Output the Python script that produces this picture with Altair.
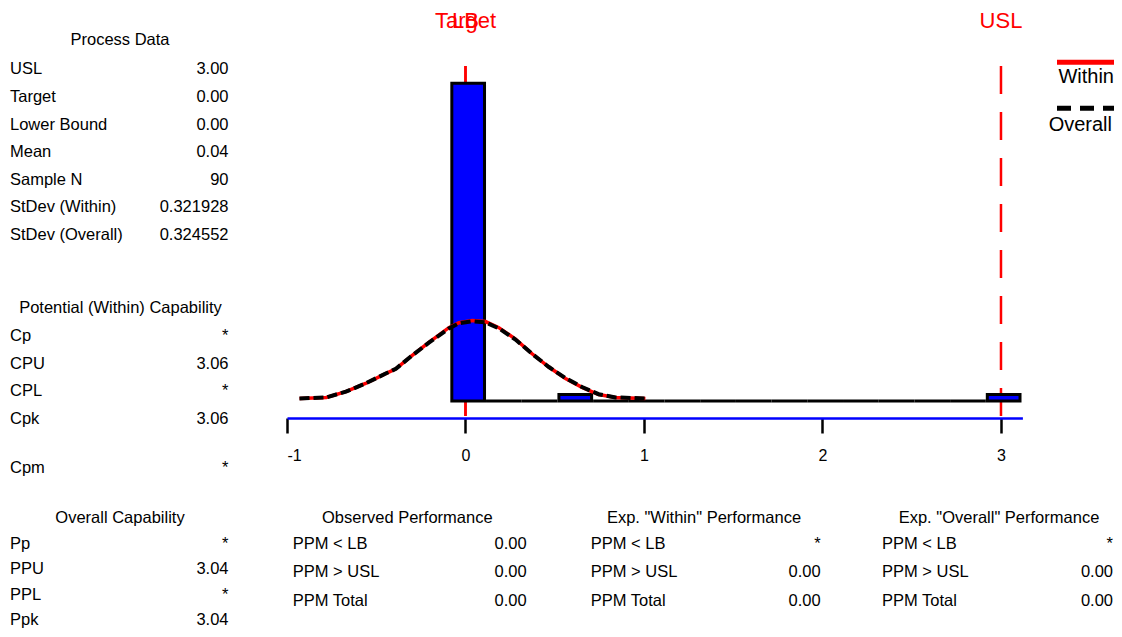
import altair as alt
import pandas as pd

# ---------------- data ----------------
bin_lo = [-0.085, 0.115, 0.315, 0.515, 0.715, 0.915, 1.115, 1.315,
          1.515, 1.715, 1.915, 2.115, 2.315, 2.515, 2.715, 2.915]
bin_width = 0.2
bin_count = [88, 0, 0, 1, 0, 0, 0, 0, 0, 0, 0, 0, 0, 0, 0, 1]

curve_x = [-0.93, -0.78, -0.67, -0.56, -0.45, -0.39, -0.30, -0.205, -0.093, -0.037,
           0.038, 0.112, 0.187, 0.280, 0.373, 0.467, 0.560, 0.653, 0.746, 0.840, 1.008]
within_y = [0.7, 1.0, 2.6, 4.9, 7.6, 9.0, 12.7, 16.4, 20.5, 21.9,
            22.5, 22.2, 20.5, 17.3, 13.2, 9.5, 6.3, 3.8, 1.8, 1.0, 0.7]
overall_y = [0.7, 1.0, 2.6, 4.9, 7.6, 9.0, 12.7, 16.3, 20.3, 21.7,
             22.3, 22.0, 20.3, 17.2, 13.2, 9.5, 6.4, 3.9, 1.9, 1.0, 0.7]

spec_names = ["LB", "Target", "USL"]
spec_values = [0.0, 0.0, 3.0]
x_ticks = [-1, 0, 1, 2, 3]

legend_names = ["Within", "Overall"]

process_title = "Process Data"
process_labels = ["USL", "Target", "Lower Bound", "Mean", "Sample N",
                  "StDev (Within)", "StDev (Overall)"]
process_values = ["3.00", "0.00", "0.00", "0.04", "90", "0.321928", "0.324552"]

potential_title = "Potential (Within) Capability"
potential_labels = ["Cp", "CPU", "CPL", "Cpk", "Cpm"]
potential_values = ["*", "3.06", "*", "3.06", "*"]

overall_title = "Overall Capability"
overall_labels = ["Pp", "PPU", "PPL", "Ppk"]
overall_values = ["*", "3.04", "*", "3.04"]

perf_labels = ["PPM < LB", "PPM > USL", "PPM Total"]
observed_title = "Observed Performance"
observed_values = ["0.00", "0.00", "0.00"]
exp_within_title = 'Exp. "Within" Performance'
exp_within_values = ["*", "0.00", "0.00"]
exp_overall_title = 'Exp. "Overall" Performance'
exp_overall_values = ["*", "0.00", "0.00"]

# ---------------- layout ----------------
FONT = "Liberation Sans"
W, H = 1106, 410          # plot area; total chart = 1106 x 621
TXT = 16.5

xs = alt.Scale(domain=[-1, 3.12], range=[279, 1014.4], nice=False, zero=False)
ys = alt.Scale(domain=[0, 88], range=[393, 78.2], nice=False, zero=False)

hist = pd.DataFrame({"lo": bin_lo, "hi": [v + bin_width for v in bin_lo],
                     "count": bin_count, "base": [0] * len(bin_lo)})
curves = pd.DataFrame({"x": curve_x + curve_x,
                       "y": within_y + overall_y,
                       "s": ["Within"] * len(curve_x) + ["Overall"] * len(curve_x)})
specs = pd.DataFrame({"name": spec_names, "v": spec_values})

x_axis = alt.Axis(values=x_ticks, title=None, grid=False,
                  domainColor="#0000FF", domainWidth=2.5,
                  tickColor="black", tickWidth=2.5, tickSize=15,
                  labelColor="black", labelFontSize=16, labelFont=FONT,
                  labelPadding=14, labelExpr="'' + datum.value")

spec_rules = alt.Chart(specs).mark_rule(color="#FF0000", strokeWidth=2.5,
                                        strokeDash=[28, 18]).encode(
    x=alt.X("v:Q", scale=xs, axis=x_axis),
    y=alt.value(58), y2=alt.value(410),
)

zero_bars = alt.Chart(hist).transform_filter(alt.datum["count"] == 0).mark_rect(
    fill="#0000FF", stroke="black", strokeWidth=3).encode(
    x=alt.X("lo:Q", scale=xs, axis=x_axis),
    x2="hi:Q",
    y=alt.Y("count:Q", scale=ys, axis=None),
    y2="base:Q",
)
# non-empty bins: outline drawn inside the bin edges, bar top grown by the outline
bars = alt.Chart(hist).transform_filter(alt.datum["count"] > 0).mark_rect(
    fill="#0000FF", stroke="black", strokeWidth=3,
    xOffset=1.5, x2Offset=-1.5, yOffset=-3).encode(
    x=alt.X("lo:Q", scale=xs, axis=x_axis),
    x2="hi:Q",
    y=alt.Y("count:Q", scale=ys, axis=None),
    y2="base:Q",
)

spec_text = alt.Chart(specs).mark_text(color="#FF0000", fontSize=22, font=FONT,
                                       align="center", baseline="alphabetic").encode(
    x=alt.X("v:Q", scale=xs, axis=x_axis), y=alt.value(20), text="name:N",
)

within_line = alt.Chart(curves).transform_filter(alt.datum.s == "Within").mark_line(
    color="#FF0000", strokeWidth=3.5).encode(
    x=alt.X("x:Q", scale=xs, axis=x_axis), y=alt.Y("y:Q", scale=ys, axis=None))
overall_line = alt.Chart(curves).transform_filter(alt.datum.s == "Overall").mark_line(
    color="black", strokeWidth=4, strokeDash=[10, 4]).encode(
    x=alt.X("x:Q", scale=xs, axis=x_axis), y=alt.Y("y:Q", scale=ys, axis=None))

leg = pd.DataFrame({"name": legend_names})
leg_within = alt.Chart(leg).transform_filter(alt.datum.name == "Within").mark_rule(
    color="#FF0000", strokeWidth=5).encode(
    x=alt.value(1049), x2=alt.value(1106), y=alt.value(54.3))
leg_overall = alt.Chart(leg).transform_filter(alt.datum.name == "Overall").mark_rule(
    color="black", strokeWidth=5, strokeDash=[14, 9]).encode(
    x=alt.value(1049), x2=alt.value(1106), y=alt.value(100.3))
leg_t1 = alt.Chart(leg).transform_filter(alt.datum.name == "Within").mark_text(
    fontSize=20, font=FONT, align="right", baseline="alphabetic").encode(
    x=alt.value(1106), y=alt.value(75.3), text="name:N")
leg_t2 = alt.Chart(leg).transform_filter(alt.datum.name == "Overall").mark_text(
    fontSize=20, font=FONT, align="right", baseline="alphabetic").encode(
    x=alt.value(1104), y=alt.value(122.7), text="name:N")

# text tables
titles, lefts, rights = [], [], []

def panel(title, tx, ty, labels, values, lx, vx, ys_):
    titles.append({"t": title, "px": tx, "py": ty})
    for lab, val, yy in zip(labels, values, ys_):
        lefts.append({"t": lab, "px": lx, "py": yy})
        rights.append({"t": val, "px": vx, "py": yy})

panel(process_title, 112, 37, process_labels, process_values, 2, 220.5,
      [66.3 + 27.6 * i for i in range(7)])
panel(potential_title, 112.5, 304.7, potential_labels, potential_values, 2, 220.5,
      [332.7, 360.5, 388.3, 416.1, 465.3])
panel(overall_title, 112, 515, overall_labels, overall_values, 2, 220.5,
      [540.5, 566.0, 591.5, 616.5])
bottom_rows = [540.5 + 28.5 * i for i in range(3)]
panel(observed_title, 399.3, 514.5, perf_labels, observed_values, 284.7, 518.7, bottom_rows)
panel(exp_within_title, 696, 514.5, perf_labels, exp_within_values, 582.7, 812.7, bottom_rows)
panel(exp_overall_title, 991, 514.5, perf_labels, exp_overall_values, 874, 1105, bottom_rows)

def text_layer(rows, align):
    return alt.Chart(pd.DataFrame(rows)).mark_text(
        fontSize=TXT, font=FONT, align=align, baseline="alphabetic", color="black").encode(
        x=alt.X("px:Q", scale=None, axis=None),
        y=alt.Y("py:Q", scale=None, axis=None),
        text="t:N")

chart = alt.layer(
    spec_rules, zero_bars, bars, within_line, overall_line, spec_text,
    leg_within, leg_overall, leg_t1, leg_t2,
    text_layer(titles, "center"), text_layer(lefts, "left"), text_layer(rights, "right"),
).properties(
    width=W, height=H,
    autosize=alt.AutoSizeParams(type="none"),
    padding={"left": 0, "top": 0, "right": 0, "bottom": 211},
    background="white",
).configure(font=FONT).configure_view(stroke=None, strokeWidth=0).configure_axis(
    labelFontSize=16, labelFont=FONT, labelColor="black")

chart.save("out.html", embed_options={"renderer": "svg", "actions": False})
